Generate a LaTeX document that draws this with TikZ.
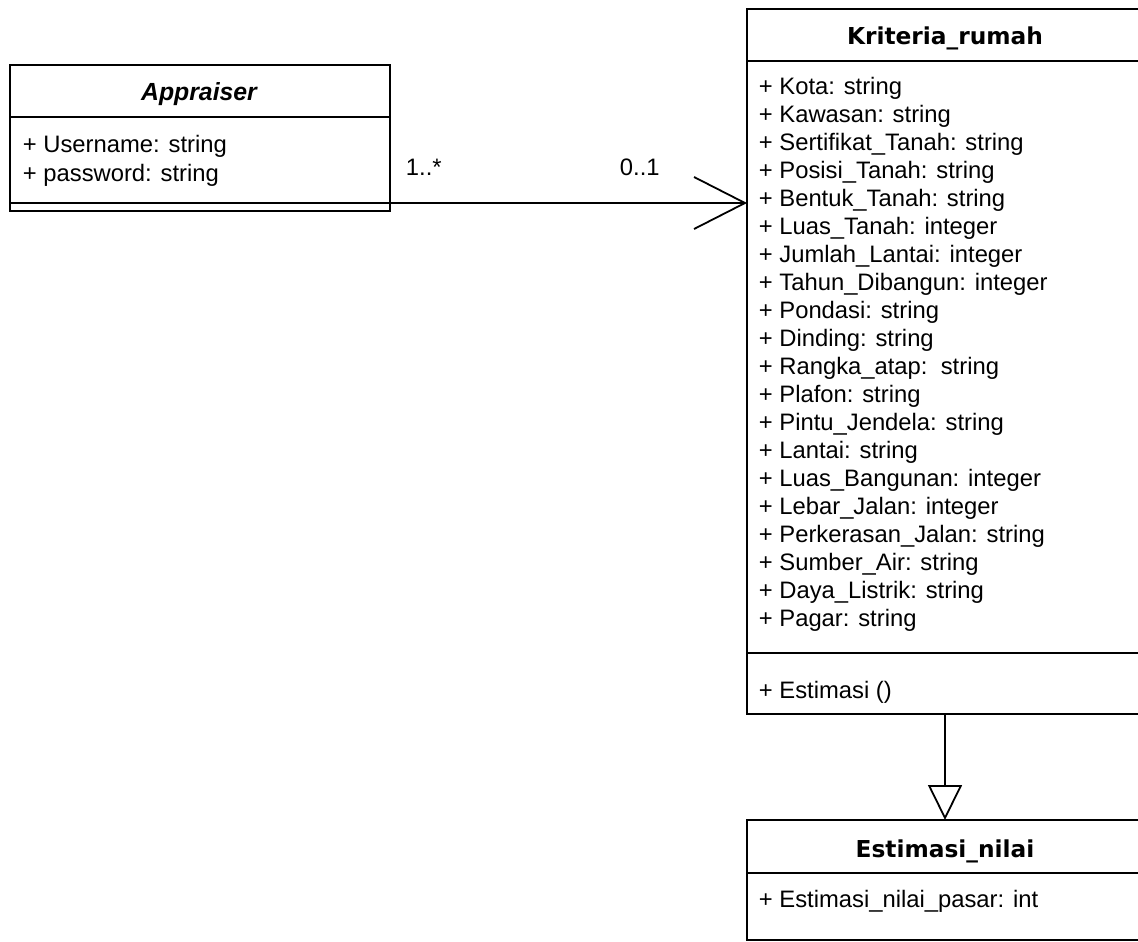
\documentclass[tikz,border=0pt]{standalone}
\usepackage{fontspec}
\setmainfont{Liberation Sans}
\newfontfamily\headfont{DejaVu Sans}
\usetikzlibrary{arrows.meta}

\tikzset{
  classbox/.style={draw, rectangle, inner sep=0pt, outer sep=0pt, fill=white},
  attr/.style={anchor=base west, inner sep=0pt, font=\fontsize{23.8}{28}\selectfont},
  classtitle/.style={anchor=base, inner sep=0pt, font=\headfont\bfseries\fontsize{23.3}{26}\selectfont},
  abstitle/.style={anchor=base, inner sep=0pt, font=\bfseries\itshape\fontsize{24.8}{28}\selectfont},
  divider/.style={draw},
  assoc/.style={draw, -{Straight Barb[length=51pt, width=52pt]}},
  gen/.style={draw, -{Triangle[open, length=35pt, width=34pt]}},
}

\begin{document}
\begin{tikzpicture}[x=1pt, y=-1pt, line width=1.8pt]
  \clip (0,0) rectangle (1138,942);
  \fill[white] (0,0) rectangle (1138,942);

  % class boxes
  \node[classbox, minimum width=380pt, minimum height=146pt] (app) at (200,138) {};
  \node[classbox, minimum width=396pt, minimum height=705pt] (krit) at (945,361.5) {};
  \node[classbox, minimum width=396pt, minimum height=120pt] (est) at (945,880) {};

  % compartment dividers
  \draw[divider] (app.west |- 0,117) -- (app.east |- 0,117);
  \draw[divider] (app.west |- 0,203) -- (app.east |- 0,203);
  \draw[divider] (krit.west |- 0,61) -- (krit.east |- 0,61);
  \draw[divider] (krit.west |- 0,653) -- (krit.east |- 0,653);
  \draw[divider] (est.west |- 0,873) -- (est.east |- 0,873);

  % Appraiser
  \node[abstitle] (appname) at (199,100) {Appraiser};
  \node[attr] (app1) at (22,152) {+ Username: string};
  \node[attr] (app2) at (22,181) {+ password: string};

  % Kriteria_rumah
  \node[classtitle] (kritname) at (945,45) {Kriteria\_rumah};
  \foreach \t [count=\i from 0] in {
      {+ Kota: string},
      {+ Kawasan: string},
      {+ Sertifikat\_Tanah: string},
      {+ Posisi\_Tanah: string},
      {+ Bentuk\_Tanah: string},
      {+ Luas\_Tanah: integer},
      {+ Jumlah\_Lantai: integer},
      {+ Tahun\_Dibangun: integer},
      {+ Pondasi: string},
      {+ Dinding: string},
      {+ Rangka\_atap:\ \ string},
      {+ Plafon: string},
      {+ Pintu\_Jendela: string},
      {+ Lantai: string},
      {+ Luas\_Bangunan: integer},
      {+ Lebar\_Jalan: integer},
      {+ Perkerasan\_Jalan: string},
      {+ Sumber\_Air: string},
      {+ Daya\_Listrik: string},
      {+ Pagar: string}} {
    \node[attr] (kattr\i) at (758,95+27.95*\i) {\t};
  }
  \node[attr] (kop) at (758,698) {+ Estimasi ()};

  % Estimasi_nilai
  \node[classtitle] (estname) at (945,857) {Estimasi\_nilai};
  \node[attr] (est1) at (758,907) {+ Estimasi\_nilai\_pasar: int};

  % association Appraiser -> Kriteria_rumah
  \coordinate (assocStart) at (390,203);
  \draw[assoc] (assocStart) -- (assocStart -| krit.west);
  \node[attr] (multA) at (405,175) {1..*};
  \node[attr] (multB) at (619,175) {0..1};

  % generalization Kriteria_rumah -> Estimasi_nilai
  \draw[gen] (krit.south) -- (est.north);
\end{tikzpicture}
\end{document}
